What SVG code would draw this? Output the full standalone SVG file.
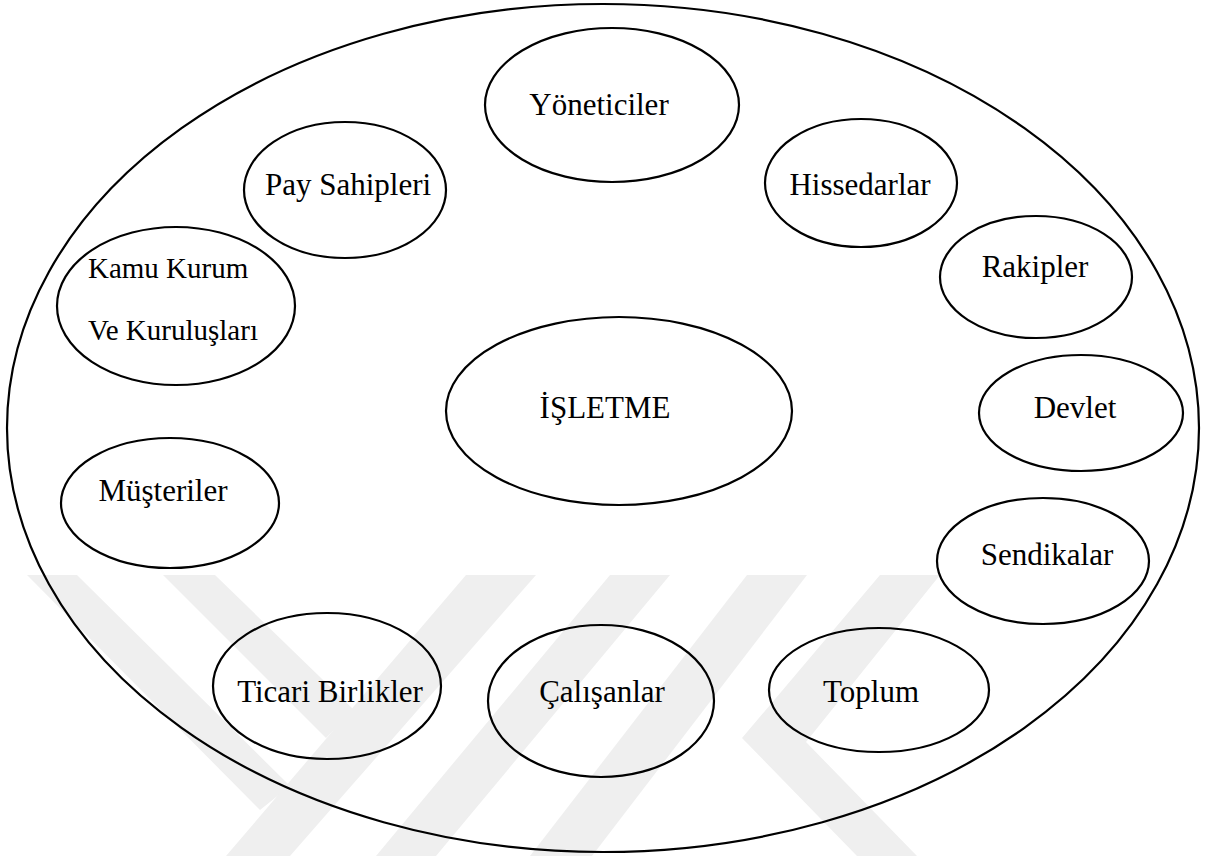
<svg xmlns="http://www.w3.org/2000/svg" width="1208" height="856" viewBox="0 0 1208 856">
<style>
.n{fill:none;stroke:#000;stroke-width:2.2}
text{font-family:'Liberation Serif','Times New Roman',serif;fill:#000}
.t{font-size:31px;text-anchor:middle}
.s{font-size:29px}
.w{fill:#efefef;stroke:none}
</style>
<rect width="1208" height="856" fill="#fff"/>
<g id="watermark">
<polygon class="w" points="27,575 77,575 290,786 260,810"/>
<polygon class="w" points="163,575 215,575 354,710 326,738"/>
<polygon class="w" points="226,856 290,856 536,575 466,575"/>
<polygon class="w" points="376,856 436,856 670,575 610,575"/>
<polygon class="w" points="530,856 592,856 807,575 747,575"/>
<polygon class="w" points="880,575 940,575 806,742 917,856 857,856 742,738"/>
</g>
<g id="outer"><ellipse class="n" cx="603" cy="428" rx="596" ry="424"/></g>
<g id="connectors"></g>
<g id="yoneticiler"><ellipse class="n" cx="612" cy="105" rx="127" ry="77"/><text class="t" x="599" y="115">Yöneticiler</text></g>
<g id="pay-sahipleri"><ellipse class="n" cx="345" cy="190" rx="101" ry="68"/><text class="t" x="348" y="195">Pay Sahipleri</text></g>
<g id="hissedarlar"><ellipse class="n" cx="861" cy="183" rx="96" ry="64"/><text class="t" x="860" y="195">Hissedarlar</text></g>
<g id="kamu"><ellipse class="n" cx="176" cy="306" rx="119" ry="79"/><text class="s" x="88" y="278">Kamu Kurum</text><text class="s" x="88" y="340">Ve Kuruluşları</text></g>
<g id="rakipler"><ellipse class="n" cx="1036" cy="277" rx="96" ry="61"/><text class="t" x="1035" y="277">Rakipler</text></g>
<g id="isletme"><ellipse class="n" cx="619" cy="411" rx="173" ry="94"/><text class="t" x="605" y="418">İŞLETME</text></g>
<g id="devlet"><ellipse class="n" cx="1081" cy="413" rx="102" ry="58"/><text class="t" x="1075" y="418">Devlet</text></g>
<g id="musteriler"><ellipse class="n" cx="170" cy="503" rx="109" ry="65"/><text class="t" x="163" y="501">Müşteriler</text></g>
<g id="sendikalar"><ellipse class="n" cx="1043" cy="561" rx="106" ry="63"/><text class="t" x="1047" y="565">Sendikalar</text></g>
<g id="ticari-birlikler"><ellipse class="n" cx="327" cy="686" rx="114" ry="73"/><text class="t" x="330" y="702">Ticari Birlikler</text></g>
<g id="calisanlar"><ellipse class="n" cx="601" cy="701" rx="113" ry="76"/><text class="t" x="602" y="702">Çalışanlar</text></g>
<g id="toplum"><ellipse class="n" cx="879" cy="690" rx="110" ry="62"/><text class="t" x="871" y="702">Toplum</text></g>
</svg>
